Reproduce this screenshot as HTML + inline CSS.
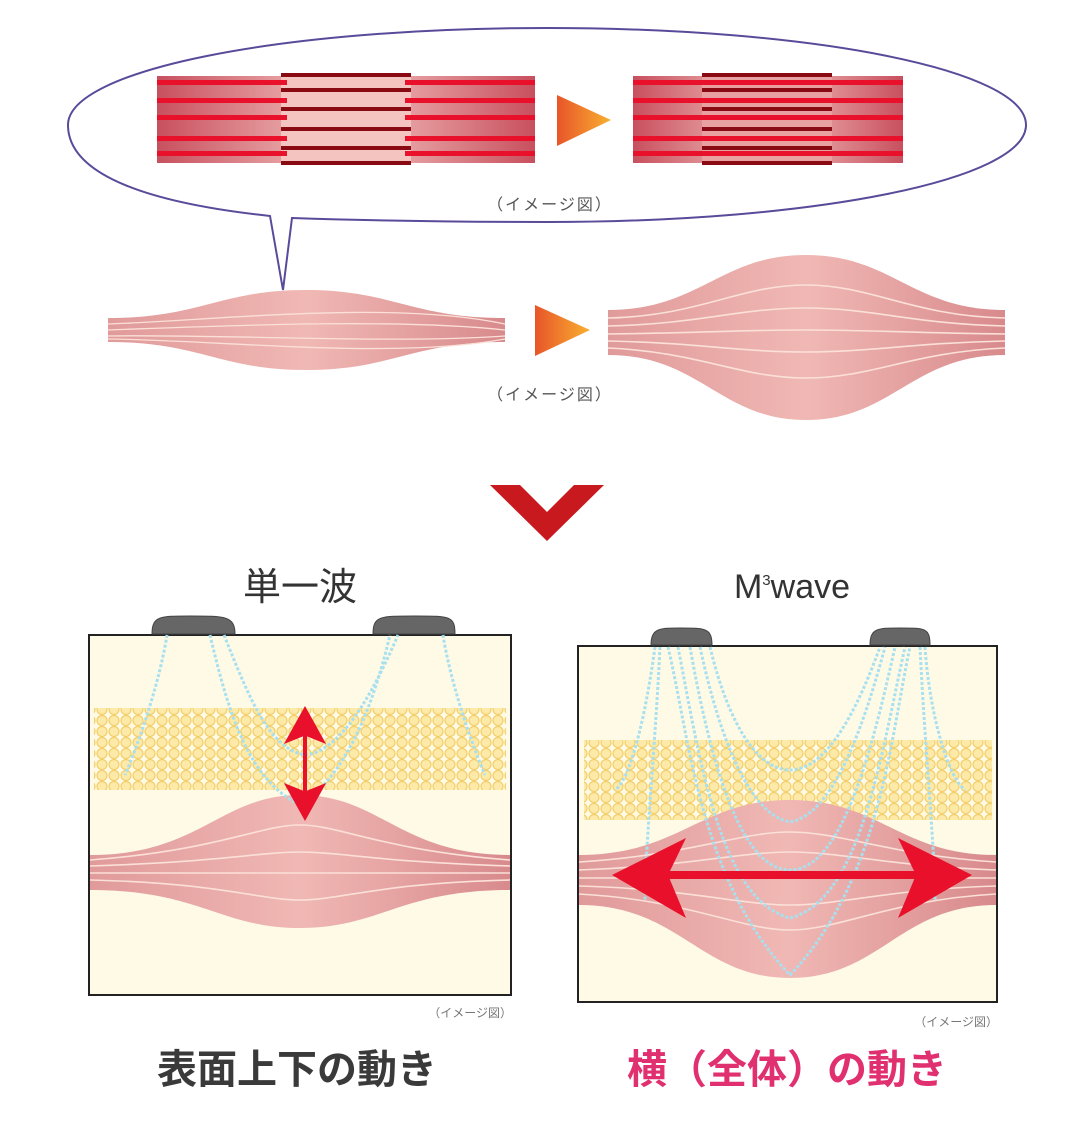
<!DOCTYPE html>
<html><head><meta charset="utf-8"><style>
html,body{margin:0;padding:0;background:#fff;}
svg{display:block;}
text{font-family:"Liberation Sans","Noto Sans CJK JP",sans-serif;}
</style></head><body>
<svg width="1080" height="1138" viewBox="0 0 1080 1138" xmlns="http://www.w3.org/2000/svg">
<defs>
<linearGradient id="fib" x1="0" x2="1" y1="0" y2="0">
<stop offset="0" stop-color="#c8505e"/><stop offset="0.5" stop-color="#f4c4c0"/><stop offset="1" stop-color="#c8505e"/></linearGradient>
<linearGradient id="mus" x1="0" x2="1">
<stop offset="0" stop-color="#e09a9a"/><stop offset="0.5" stop-color="#f0b8b4"/><stop offset="1" stop-color="#d88a8c"/></linearGradient>
<linearGradient id="tri" x1="0" x2="1">
<stop offset="0" stop-color="#e8552a"/><stop offset="1" stop-color="#f8b030"/></linearGradient>
<pattern id="fat" width="12" height="11" patternUnits="userSpaceOnUse">
<circle cx="6" cy="5.5" r="5" fill="#fde9a8" stroke="#f3cf6a" stroke-width="1.2"/>
</pattern>
</defs>

<path d="M270,216 C120,200 68,165 68,125 C68,70 280,28 547,28 C814,28 1026,70 1026,125 C1026,180 814,222 547,222 C430,222 350,220 292,218 L283,290 Z" fill="#fff" stroke="#5a4a9a" stroke-width="2"/>

<rect x="157" y="76" width="378" height="87" fill="url(#fib)"/>
<rect x="281" y="76" width="130" height="87" fill="#f4c4c0"/>
<g fill="#e8102a">
<rect x="157" y="80" width="130" height="5"/><rect x="405" y="80" width="130" height="5"/>
<rect x="157" y="98" width="130" height="5"/><rect x="405" y="98" width="130" height="5"/>
<rect x="157" y="115" width="130" height="5"/><rect x="405" y="115" width="130" height="5"/>
<rect x="157" y="136" width="130" height="5"/><rect x="405" y="136" width="130" height="5"/>
<rect x="157" y="151" width="130" height="5"/><rect x="405" y="151" width="130" height="5"/>
</g>
<g fill="#8a0a14">
<rect x="281" y="73" width="130" height="4"/><rect x="281" y="88" width="130" height="4"/>
<rect x="281" y="107" width="130" height="4"/><rect x="281" y="127" width="130" height="4"/>
<rect x="281" y="146" width="130" height="4"/><rect x="281" y="161" width="130" height="4"/>
</g>
<rect x="633" y="76" width="270" height="87" fill="url(#fib)"/>
<rect x="702" y="76" width="130" height="87" fill="#e8a0a0"/>
<g fill="#e8102a">
<rect x="633" y="80" width="140" height="5"/><rect x="763" y="80" width="140" height="5"/>
<rect x="633" y="98" width="140" height="5"/><rect x="763" y="98" width="140" height="5"/>
<rect x="633" y="115" width="140" height="5"/><rect x="763" y="115" width="140" height="5"/>
<rect x="633" y="136" width="140" height="5"/><rect x="763" y="136" width="140" height="5"/>
<rect x="633" y="151" width="140" height="5"/><rect x="763" y="151" width="140" height="5"/>
</g>
<g fill="#8a0a14">
<rect x="702" y="73" width="130" height="4"/><rect x="702" y="88" width="130" height="4"/>
<rect x="702" y="107" width="130" height="4"/><rect x="702" y="127" width="130" height="4"/>
<rect x="702" y="146" width="130" height="4"/><rect x="702" y="161" width="130" height="4"/>
</g>
<polygon points="557,95 611,120 557,146" fill="url(#tri)"/>
<text x="550" y="210" font-size="16" fill="#555" text-anchor="middle" letter-spacing="2">（イメージ図）</text>

<path d="M108,318 C200,318 220,290 306,290 C392,290 412,318 505,318 L505,342 C412,342 392,370 306,370 C220,370 200,342 108,342 Z" fill="url(#mus)"/>
<g stroke="#fbe0d8" stroke-width="1.3" fill="none">
<path d="M108,324 C220,320 392,300 505,324"/><path d="M108,330 C220,326 392,318 505,330"/>
<path d="M108,336 C220,334 392,344 505,336"/><path d="M108,339 C220,340 392,360 505,339"/>
</g>
<path d="M608,310 C700,310 720,255 806,255 C892,255 912,310 1005,310 L1005,355 C912,355 892,420 806,420 C720,420 700,355 608,355 Z" fill="url(#mus)"/>
<g stroke="#fbe0d8" stroke-width="1.6" fill="none">
<path d="M608,318 C700,316 740,285 806,285 C872,285 912,316 1005,318"/>
<path d="M608,326 C700,324 740,308 806,308 C872,308 912,324 1005,326"/>
<path d="M608,334 C700,333 740,330 806,330 C872,330 912,333 1005,334"/>
<path d="M608,341 C700,343 740,352 806,352 C872,352 912,343 1005,341"/>
<path d="M608,348 C700,352 740,378 806,378 C872,378 912,352 1005,348"/>
</g>
<polygon points="535,305 590,330 535,356" fill="url(#tri)"/>
<text x="550" y="400" font-size="16" fill="#555" text-anchor="middle" letter-spacing="2">（イメージ図）</text>

<polygon points="490,485 520,485 547,512 574,485 604,485 547,541" fill="#c8191e"/>

<text x="300" y="600" font-size="38" fill="#333" text-anchor="middle">単一波</text>
<text x="792" y="598" font-size="34" fill="#333" text-anchor="middle">M<tspan font-size="15" dy="-13">3</tspan><tspan dy="13">wave</tspan></text>

<rect x="89" y="635" width="422" height="360" fill="#fefae6" stroke="#222" stroke-width="2"/>
<rect x="94" y="708" width="412" height="82" fill="url(#fat)"/>
<path d="M90,855 C200,855 220,795 300,795 C380,795 400,855 510,855 L510,890 C400,890 380,928 300,928 C220,928 200,890 90,890 Z" fill="url(#mus)"/>
<g stroke="#fbe0d8" stroke-width="1.6" fill="none">
<path d="M90,860 C220,850 260,825 300,825 C340,825 380,850 510,860"/>
<path d="M90,866 C220,862 260,852 300,852 C340,852 380,862 510,866"/>
<path d="M90,873 C220,873 380,873 510,873"/>
<path d="M90,880 C220,883 260,900 300,900 C340,900 380,883 510,880"/>
</g>
<g stroke="#a8e0f0" stroke-width="3" fill="none" stroke-dasharray="3,2">
<path d="M167,635 C160,680 140,740 125,775"/>
<path d="M210,635 C230,720 250,780 300,805 C340,780 370,720 390,635"/>
<path d="M224,635 C250,700 270,750 306,755 C340,750 370,700 398,635"/>
<path d="M443,635 C450,680 470,740 485,775"/>
</g>
<path d="M152,634 C152,616 160,616 190,616 C225,616 235,616 235,634 Z" fill="#666" stroke="#444"/>
<path d="M373,634 C373,616 380,616 415,616 C450,616 455,616 455,634 Z" fill="#666" stroke="#444"/>
<g fill="#e8102a" stroke="#e8102a">
<line x1="305" y1="730" x2="305" y2="800" stroke-width="4"/>
<polygon points="305,707 325,743 305,735 285,743"/>
<polygon points="305,820 325,784 305,792 285,784"/>
</g>
<text x="512" y="1017" font-size="12" fill="#777" text-anchor="end">（イメージ図）</text>

<rect x="578" y="646" width="419" height="356" fill="#fefae6" stroke="#222" stroke-width="2"/>
<rect x="584" y="740" width="408" height="80" fill="url(#fat)"/>
<path d="M579,855 C680,855 700,800 790,800 C880,800 900,855 996,855 L996,905 C900,905 880,978 790,978 C700,978 680,905 579,905 Z" fill="url(#mus)"/>
<g stroke="#fbe0d8" stroke-width="1.6" fill="none">
<path d="M579,862 C690,855 740,832 790,832 C840,832 890,855 996,862"/>
<path d="M579,870 C690,866 740,852 790,852 C840,852 890,866 996,870"/>
<path d="M579,878 C690,878 890,878 996,878"/>
<path d="M579,886 C690,889 740,905 790,905 C840,905 890,889 996,886"/>
<path d="M579,894 C690,900 740,930 790,930 C840,930 890,900 996,894"/>
</g>
<g stroke="#a8e0f0" stroke-width="3" fill="none" stroke-dasharray="3,2">
<path d="M655,647 C645,720 630,780 615,790"/>
<path d="M660,647 C655,750 645,850 645,900"/>
<path d="M668,647 C690,740 700,880 790,975 C880,880 890,740 910,647"/>
<path d="M678,647 C700,760 720,900 790,918 C860,900 880,760 905,647"/>
<path d="M690,647 C710,760 740,870 790,870 C840,870 870,760 895,647"/>
<path d="M700,647 C720,740 750,815 790,822 C830,815 860,740 885,647"/>
<path d="M710,647 C730,730 760,770 790,770 C820,770 850,730 880,647"/>
<path d="M925,647 C930,720 950,780 965,790"/>
<path d="M920,647 C925,750 935,850 935,900"/>
</g>
<path d="M651,645 C651,628 660,628 680,628 C705,628 712,628 712,645 Z" fill="#666" stroke="#444"/>
<path d="M870,645 C870,628 878,628 900,628 C925,628 930,628 930,645 Z" fill="#666" stroke="#444"/>
<g fill="#e8102a">
<rect x="660" y="871" width="260" height="8"/>
<polygon points="612,875 686,838 668,875 686,918"/>
<polygon points="972,875 898,838 916,875 898,918"/>
</g>
<text x="998" y="1026" font-size="12" fill="#777" text-anchor="end">（イメージ図）</text>

<text x="297" y="1083" font-size="40" font-weight="bold" fill="#3a3a3a" text-anchor="middle">表面上下の動き</text>
<text x="787" y="1083" font-size="40" font-weight="bold" fill="#e03070" text-anchor="middle">横（全体）の動き</text>
</svg>
</body></html>
